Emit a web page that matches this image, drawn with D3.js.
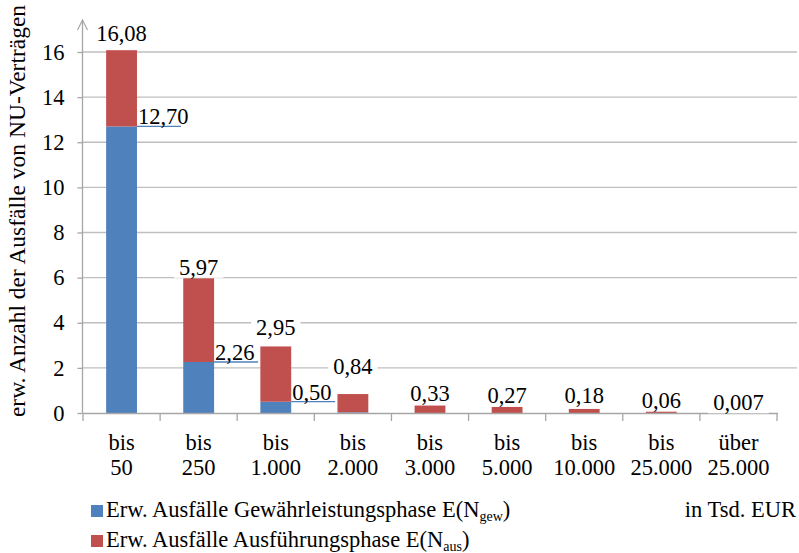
<!DOCTYPE html>
<html>
<head>
<meta charset="utf-8">
<script src="https://cdn.jsdelivr.net/npm/d3@7"></script>
<style>
  html, body { margin: 0; padding: 0; background: #fff; }
  svg { display: block; }
  svg text { font-family: "Liberation Serif", "Times New Roman", "DejaVu Serif", serif; }
</style>
</head>
<body>
<svg id="chart" width="799" height="553"></svg>
<script>
// ---- data ----
const categoriesTop = ["bis", "bis", "bis", "bis", "bis", "bis", "bis", "bis", "über"];
const categoriesBottom = ["50", "250", "1.000", "2.000", "3.000", "5.000", "10.000", "25.000", "25.000"];
const gewValues = [12.70, 2.26, 0.50, 0.03, 0, 0, 0, 0, 0];
const totalValues = [16.08, 5.97, 2.95, 0.84, 0.33, 0.27, 0.18, 0.06, 0.007];
const totalLabels = ["16,08", "5,97", "2,95", "0,84", "0,33", "0,27", "0,18", "0,06", "0,007"];
const gewLabels = ["12,70", "2,26", "0,50", "", "", "", "", "", ""];
const yTicks = [0, 2, 4, 6, 8, 10, 12, 14, 16];
const yTitle = "erw. Anzahl der Ausfälle von NU-Verträgen";
const unitLabel = "in Tsd. EUR";

// ---- layout (label placement offsets in px, above bar top) ----
const totalLabelLift = [17, 11, 19, 28, 12, 11, 13, 11, 10];

const FONT = "Liberation Serif";
const colGew = "#4F81BD", colAus = "#C0504D";
const gridCol = "#BFBFBF", axisCol = "#A6A6A6";
const fs = 22.5;

const svg = d3.select("#chart");
const keys = categoriesBottom.map((d, i) => i);
const x = d3.scaleBand().domain(keys).range([83, 777]).padding(0);
const y = d3.scaleLinear().domain([0, 16]).range([413, 52]);
const bw = x.bandwidth() * 0.4;

// gridlines
svg.append("g").selectAll("line").data(yTicks.filter(t => t > 0)).join("line")
  .attr("x1", 83).attr("x2", 797)
  .attr("y1", d => y(d)).attr("y2", d => y(d))
  .attr("stroke", gridCol).attr("stroke-width", 1.3);

// y axis
const yAxis = d3.axisLeft(y).tickValues(yTicks).tickSize(5).tickPadding(13).tickFormat(d3.format("d"));
const yg = svg.append("g").attr("transform", "translate(82.5,0)").call(yAxis)
  .attr("font-family", FONT).attr("font-size", fs);
yg.select(".domain").remove();
yg.selectAll(".tick line").attr("stroke", axisCol).attr("stroke-width", 1.3);
yg.selectAll(".tick text").attr("font-size", fs).attr("fill", "#000").attr("font-family", FONT);
// axis line with open arrow
svg.append("line").attr("x1", 82.5).attr("x2", 82.5).attr("y1", 413).attr("y2", 20)
  .attr("stroke", axisCol).attr("stroke-width", 1.3);
svg.append("path").attr("d", "M77.5,30 L82.5,20 L87.5,30")
  .attr("fill", "none").attr("stroke", axisCol).attr("stroke-width", 1.2);

// bars
const bars = svg.append("g");
bars.selectAll("rect.gew").data(keys).join("rect").attr("class", "gew")
  .attr("x", i => x(i) + (x.bandwidth() - bw) / 2)
  .attr("width", bw)
  .attr("y", i => y(gewValues[i]))
  .attr("height", i => y(0) - y(gewValues[i]))
  .attr("fill", colGew);
bars.selectAll("rect.aus").data(keys).join("rect").attr("class", "aus")
  .attr("x", i => x(i) + (x.bandwidth() - bw) / 2)
  .attr("width", bw)
  .attr("y", i => y(totalValues[i]))
  .attr("height", i => y(gewValues[i]) - y(totalValues[i]))
  .attr("fill", colAus);

// x axis baseline + ticks
const xg = svg.append("g");
xg.append("line").attr("x1", 83).attr("x2", 778).attr("y1", 413.5).attr("y2", 413.5)
  .attr("stroke", axisCol).attr("stroke-width", 1.3);
const bounds = keys.map(i => x(i)).concat([x(keys.length - 1) + x.bandwidth()]);
xg.selectAll("line.tk").data(bounds).join("line").attr("class", "tk")
  .attr("x1", d => d).attr("x2", d => d).attr("y1", 413).attr("y2", 421)
  .attr("stroke", axisCol).attr("stroke-width", 1.3);
const cl = xg.selectAll("text.cat").data(keys).join("text").attr("class", "cat")
  .attr("x", i => x(i) + x.bandwidth() / 2).attr("text-anchor", "middle")
  .attr("font-family", FONT).attr("font-size", fs).attr("fill", "#000");
cl.append("tspan").attr("x", i => x(i) + x.bandwidth() / 2).attr("y", 449.5).text(i => categoriesTop[i]);
cl.append("tspan").attr("x", i => x(i) + x.bandwidth() / 2).attr("y", 474.5).text(i => categoriesBottom[i]);

// total labels with white background
const tl = svg.append("g");
keys.forEach(i => {
  const cx = x(i) + x.bandwidth() / 2;
  const cy = y(totalValues[i]) - totalLabelLift[i];
  const g = tl.append("g");
  const t = g.append("text").attr("x", cx).attr("y", cy + 7.5).attr("text-anchor", "middle")
    .attr("font-family", FONT).attr("font-size", fs).attr("fill", "#000").text(totalLabels[i]);
  const bb = t.node().getBBox();
  g.insert("rect", "text").attr("x", bb.x - 5).attr("y", bb.y + 2).attr("width", bb.width + 10).attr("height", bb.height - 4)
    .attr("fill", "#fff");
});

// gew labels with leader lines
const gl = svg.append("g");
keys.filter(i => gewLabels[i]).forEach(i => {
  const x0 = x(i) + (x.bandwidth() + bw) / 2;
  const yy = y(gewValues[i]);
  gl.append("line").attr("x1", x0).attr("x2", x0 + 44).attr("y1", yy).attr("y2", yy)
    .attr("stroke", colGew).attr("stroke-width", 1.3);
  gl.append("text").attr("x", x0 + 1).attr("y", yy - 2).attr("font-family", FONT)
    .attr("font-size", fs).attr("fill", "#000").text(gewLabels[i]);
});

// y title
svg.append("text").attr("transform", "translate(25,211) rotate(-90)").attr("text-anchor", "middle")
  .attr("font-family", FONT).attr("font-size", 23.5).attr("fill", "#000").text(yTitle);

// legend
const lg = svg.append("g");
const legendItems = [
  { col: colGew, text: "Erw. Ausfälle Gewährleistungsphase E(N", sub: "gew", y: 517 },
  { col: colAus, text: "Erw. Ausfälle Ausführungsphase E(N", sub: "aus", y: 547 }
];
legendItems.forEach(it => {
  lg.append("rect").attr("x", 91).attr("y", it.y - 12).attr("width", 12).attr("height", 12).attr("fill", it.col);
  const t = lg.append("text").attr("x", 106).attr("y", it.y).attr("font-family", FONT)
    .attr("font-size", fs).attr("fill", "#000");
  t.append("tspan").text(it.text);
  t.append("tspan").attr("font-size", 14).attr("dy", 4).text(it.sub);
  t.append("tspan").attr("dy", -4).text(")");
});
lg.append("text").attr("x", 796).attr("y", 517).attr("text-anchor", "end")
  .attr("font-family", FONT).attr("font-size", fs).attr("fill", "#000").text(unitLabel);
</script>
</body>
</html>
